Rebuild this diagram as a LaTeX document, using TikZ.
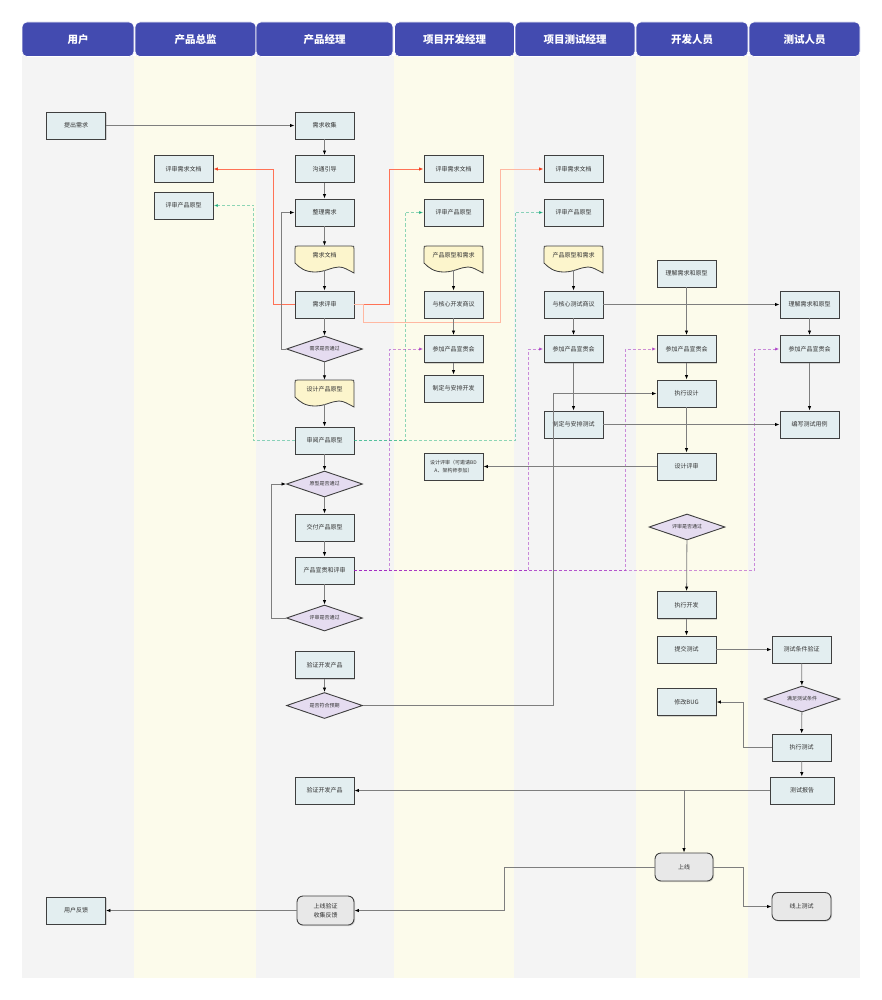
\documentclass[tikz,border=0pt]{standalone}
\usepackage{fontspec}
\setmainfont{Noto Sans CJK SC}
\usetikzlibrary{arrows.meta,shapes.geometric,shadows}

\definecolor{hdr}{HTML}{434BB0}
\definecolor{lanegray}{HTML}{F4F4F4}
\definecolor{laneyel}{HTML}{FCFBEB}
\definecolor{boxfill}{HTML}{E3EEF0}
\definecolor{boxline}{HTML}{3F3F3F}
\definecolor{diafill}{HTML}{E5DCF0}
\definecolor{docfill}{HTML}{FCF5CC}
\definecolor{rndfill}{HTML}{E8E8E8}
\definecolor{lineg}{HTML}{7E7E7E}
\definecolor{redl}{HTML}{FF7256}
\definecolor{redlight}{HTML}{FFB8A2}
\definecolor{redtip}{HTML}{F04020}
\definecolor{greenl}{HTML}{20B080}
\definecolor{greentip}{HTML}{10A878}
\definecolor{purpl}{HTML}{A020C0}
\definecolor{purptip}{HTML}{A020C0}
\definecolor{txt}{HTML}{333333}

\tikzset{
  hdrbox/.style={fill=hdr, draw=white, line width=0.6pt, rounded corners=5pt, text=white,
    font=\fontsize{10.5}{12}\selectfont\bfseries, inner sep=0pt, minimum height=34.5pt},
  box/.style={rectangle, draw=boxline, line width=0.9pt, fill=boxfill, minimum width=59pt,
    minimum height=27pt, inner sep=1pt, font=\fontsize{6}{7.5}\selectfont, text=txt,
    drop shadow={shadow xshift=1pt, shadow yshift=-1pt, opacity=0.3}},
  dia/.style={diamond, aspect=2.9, draw=boxline, line width=0.9pt, fill=diafill, minimum width=76pt,
    minimum height=26pt, inner sep=0pt, font=\fontsize{5}{6}\selectfont, text=txt},
  docn/.style={rectangle, draw=none, minimum width=59pt, minimum height=18pt, inner sep=0pt,
    font=\fontsize{6}{7.5}\selectfont, text=txt},
  docshape/.style={draw=boxline, line width=0.8pt, fill=docfill},
  rnd/.style={rectangle, rounded corners=6pt, draw=boxline, line width=0.9pt, fill=rndfill,
    minimum width=59pt, minimum height=28pt, inner sep=1pt, font=\fontsize{6}{9}\selectfont, text=txt,
    drop shadow={shadow xshift=1pt, shadow yshift=-1pt, opacity=0.3}},
  conn/.style={draw=lineg, line width=0.8pt, -{Latex[length=4.5pt,width=3.5pt,color=black]}},
  redc/.style={draw=redl, line width=0.9pt, -{Latex[length=4.5pt,width=3.5pt,color=redtip]}},
  redlc/.style={draw=redlight, line width=0.9pt, -{Latex[length=4.5pt,width=3.5pt,color=redtip]}},
  greenc/.style={draw=greenl, draw opacity=0.5, line width=0.8pt, dash pattern=on 3pt off 2pt,
    -{Latex[length=4.5pt,width=3.5pt,color=greentip]}},
  purpc/.style={draw=purpl, draw opacity=0.5, line width=0.9pt, dash pattern=on 3pt off 2pt,
    -{Latex[length=4.5pt,width=3.5pt,color=purptip]}},
}

\newcommand\docnode[4]{%
  \path[docshape, shift={(#2-29.5,#3)}] (0,17) -- (0,3) .. controls (0,0) .. (3,0) -- (56,0)
    .. controls (59,0) .. (59,3) -- (59,27) .. controls (53,24) and (49,21) .. (44,21)
    .. controls (37,21) and (30,26) .. (20,26) .. controls (10,26) and (5,22) .. (0,17) -- cycle;
  \node[docn] (#1) at (#2,#3+9) {#4};}

\begin{document}
\begin{tikzpicture}[x=1pt, y=-1pt]
\useasboundingbox (0,0) rectangle (882,1000);
\fill[white] (0,0) rectangle (882,1000);

% lanes
\fill[lanegray] (22,56) rectangle (134,978);
\fill[laneyel] (134,56) rectangle (256,978);
\fill[lanegray] (256,56) rectangle (394,978);
\fill[laneyel] (394,56) rectangle (514,978);
\fill[lanegray] (514,56) rectangle (636,978);
\fill[laneyel] (636,56) rectangle (748,978);
\fill[lanegray] (748,56) rectangle (860,978);

% headers
\node[hdrbox, minimum width=112pt] (h1) at (78,39.25) {用户};
\node[hdrbox, minimum width=121pt] (h2) at (195.5,39.25) {产品总监};
\node[hdrbox, minimum width=137pt] (h3) at (324.5,39.25) {产品经理};
\node[hdrbox, minimum width=120pt] (h4) at (454.5,39.25) {项目开发经理};
\node[hdrbox, minimum width=120pt] (h5) at (575,39.25) {项目测试经理};
\node[hdrbox, minimum width=112pt] (h6) at (692,39.25) {开发人员};
\node[hdrbox, minimum width=111pt] (h7) at (804.5,39.25) {测试人员};

% user
\node[box] (tc) at (76,125.5) {提出需求};
\node[box] (fb) at (76,910.5) {用户反馈};
% director
\node[box] (d1) at (183.5,169) {评审需求文档};
\node[box] (d2) at (183.5,205.5) {评审产品原型};
% product manager
\node[box] (p1) at (324.5,125.5) {需求收集};
\node[box] (p2) at (324.5,169) {沟通引导};
\node[box] (p3) at (324.5,212.5) {整理需求};
\docnode{p4}{324.5}{246}{需求文档}
\node[box] (p5) at (324.5,304.5) {需求评审};
\node[dia] (p6) at (324.5,349) {需求是否通过};
\docnode{p7}{324.5}{380}{设计产品原型}
\node[box] (p8) at (324.5,440.5) {审阅产品原型};
\node[dia] (p9) at (324.5,484) {原型是否通过};
\node[box] (p10) at (324.5,527.5) {交付产品原型};
\node[box] (p11) at (324.5,570.5) {产品宣贯和评审};
\node[dia] (p12) at (324.5,618) {评审是否通过};
\node[box] (p13) at (324.5,665) {验证开发产品};
\node[dia] (p14) at (324.5,705.5) {是否符合预期};
\node[box] (p15) at (324.5,790.5) {验证开发产品};
\node[rnd, minimum width=57pt, minimum height=29pt, align=center] (p16) at (325.5,910.5) {上线验证\\收集反馈};
% dev manager
\node[box] (m1) at (453.5,169) {评审需求文档};
\node[box] (m2) at (453.5,212.5) {评审产品原型};
\docnode{m3}{453.5}{246}{产品原型和需求}
\node[box] (m4) at (453.5,304.5) {与核心开发商议};
\node[box] (m5) at (453.5,349) {参加产品宣贯会};
\node[box] (m6) at (453.5,388.5) {制定与安排开发};
\node[box, align=center, font=\fontsize{5}{7.5}\selectfont] (m7) at (453.5,466.5) {设计评审（可邀请BD\\A、架构师参加）};
% test manager
\node[box] (t1) at (573.5,169) {评审需求文档};
\node[box] (t2) at (573.5,212.5) {评审产品原型};
\docnode{t3}{573.5}{246}{产品原型和需求}
\node[box] (t4) at (573.5,304.5) {与核心测试商议};
\node[box] (t5) at (573.5,349) {参加产品宣贯会};
\node[box] (t6) at (573.5,424.5) {制定与安排测试};
% developer
\node[box] (v1) at (686.5,273.5) {理解需求和原型};
\node[box] (v2) at (686.5,349) {参加产品宣贯会};
\node[box] (v3) at (686.5,393.5) {执行设计};
\node[box] (v4) at (686.5,466.5) {设计评审};
\node[dia] (v5) at (687,527) {评审是否通过};
\node[box] (v6) at (686.5,605) {执行开发};
\node[box] (v7) at (686.5,649.5) {提交测试};
\node[box] (v8) at (686.5,702) {修改BUG};
\node[rnd, minimum width=58pt] (v9) at (684,867) {上线};
% tester
\node[box] (s1) at (809.5,304.5) {理解需求和原型};
\node[box] (s2) at (809.5,349) {参加产品宣贯会};
\node[box] (s3) at (809.5,424.5) {编写测试用例};
\node[box] (s4) at (801.5,649.5) {测试条件验证};
\node[dia] (s5) at (802,699) {满足测试条件};
\node[box] (s6) at (801.5,747.5) {执行测试};
\node[box, minimum width=64pt] (s7) at (802,790.5) {测试报告};
\node[rnd] (s8) at (801.5,906.5) {线上测试};

% coloured feedback connectors
\draw[redc] (p5.west) -- ++(-21,0) |- (d1.east);
\draw[redc] (p5.east) -- ++(35,0) |- (m1.west);
\draw[redlc] (p5.east) -- ++(9,0) |- ++(137,17.5) |- (t1.west);
\draw[greenc] (p8.west) -- ++(-41,0) |- (d2.east);
\draw[greenc] (p8.east) -- ++(51,0) |- (m2.west);
\draw[greenc] (p8.east) -- ++(161,0) |- (t2.west);
\draw[purpc] (p11.east) -- ++(35,0) |- (m5.west);
\draw[purpc] (p11.east) -- ++(174,0) |- (t5.west);
\draw[purpc] (p11.east) -- ++(271,0) |- (v2.west);
\draw[purpc] (p11.east) -- ++(400,0) |- (s2.west);

% main flow
\draw[conn] (tc) -- (p1);
\draw[conn] (p1) -- (p2);
\draw[conn] (p2) -- (p3);
\draw[conn] (p3) -- (p4);
\draw[conn] (p4.south) ++(0,6) -- (p5);
\draw[conn] (p5) -- (p6);
\draw[conn] (p6) -- (p7);
\draw[conn] (p7.south) ++(0,6) -- (p8);
\draw[conn] (p8) -- (p9);
\draw[conn] (p9) -- (p10);
\draw[conn] (p10) -- (p11);
\draw[conn] (p11) -- (p12);
\draw[conn] (p6.west) -- ++(-5,0) |- (p3.west);
\draw[conn] (p12.west) -- ++(-14.5,0) |- (p9.west);
\draw[conn] (p13) -- (p14);
\draw[conn] (p14.east) -- ++(190,0) |- (v3.west);

\draw[conn] (m3.south) ++(0,6) -- (m4);
\draw[conn] (m4) -- (m5);
\draw[conn] (m5) -- (m6);
\draw[conn] (t3.south) ++(0,6) -- (t4);
\draw[conn] (t4) -- (t5);
\draw[conn] (t5) -- (t6);
\draw[conn] (t4) -- (s1);
\draw[conn] (t6) -- (s3);

\draw[conn] (v1) -- (v2);
\draw[conn] (v2) -- (v3);
\draw[conn] (v3) -- (v4);
\draw[conn] (v4) -- (m7);
\draw[conn] (v5) -- (v6);
\draw[conn] (v6) -- (v7);
\draw[conn] (v7) -- (s4);

\draw[conn] (s1) -- (s2);
\draw[conn] (s2) -- (s3);
\draw[conn] (s4) -- (s5);
\draw[conn] (s5) -- (s6);
\draw[conn] (s6) -- (s7);
\draw[conn] (s6.west) -- ++(-28,0) |- (v8.east);
\draw[conn] (s7.west) -- (p15.east);
\draw[conn] (s7.west) -| (v9.north);
\draw[conn] (v9.west) -- ++(-150,0) |- (p16.east);
\draw[conn] (v9.east) -- ++(30,0) |- (s8.west);
\draw[conn] (p16) -- (fb);
\end{tikzpicture}
\end{document}
